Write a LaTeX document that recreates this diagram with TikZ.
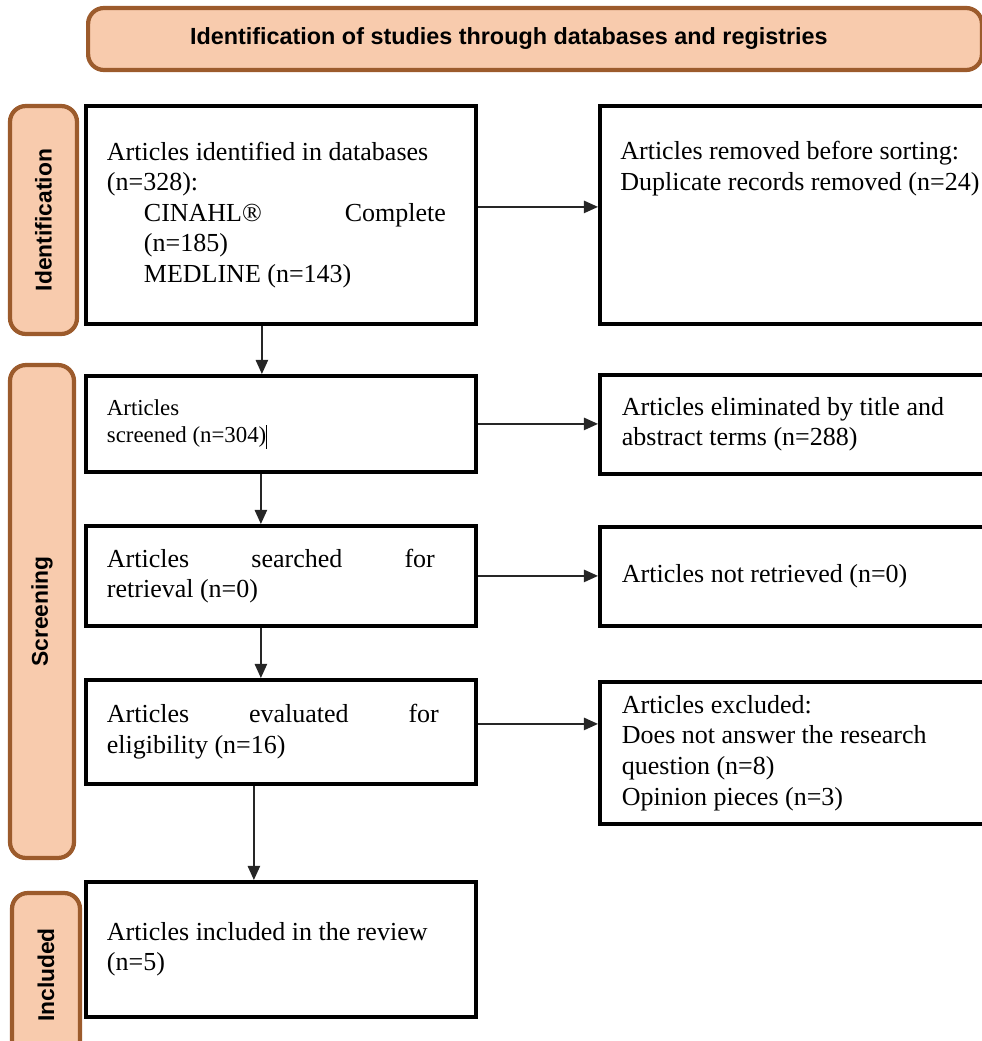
\documentclass[tikz,border=0pt]{standalone}
\usepackage{fontspec}
\setmainfont{Liberation Serif}
\setsansfont{Liberation Sans}
\usetikzlibrary{arrows.meta}

\begin{document}
\begin{tikzpicture}[x=0.02cm, y=-0.02cm,
    box/.style={draw, line width=2.2pt, align=flush left, anchor=north west, inner ysep=2pt, font=\fontsize{14.8}{17.4}\selectfont},
    lbox/.style={box, text width=6.96cm, inner xsep=0.42cm, minimum width=7.8cm},
    rbox/.style={box, text width=7.3cm, inner xsep=0.44cm, minimum width=8.18cm},
    side/.style={draw=hb, fill=hf, line width=2.4pt, rounded corners=9pt, rotate=90, font=\sffamily\bfseries\fontsize{13}{15}\selectfont},
    arr/.style={-{Triangle[length=8pt, width=7pt]}, line width=0.9pt, black!85}]
  \definecolor{hb}{HTML}{9C5B2C}
  \definecolor{hf}{HTML}{F8CBAD}
  \useasboundingbox (0, 0) rectangle (982, 1041);
  \clip (0, 0) rectangle (982, 1041);

  % header and phase labels
  \node (hdr) at (86, 39) [anchor=west, draw=hb, fill=hf, line width=2.4pt, rounded corners=9pt, minimum width=17.88cm, minimum height=1.24cm, text width=17.5cm, inner xsep=0.19cm, align=flush left, font=\sffamily\bfseries\fontsize{13.3}{15}\selectfont] {\hspace*{1.85cm}Identification of studies through databases and registries};
  \node (phid) at (43.5, 220) [side, minimum width=4.56cm, minimum height=1.34cm] {Identification};
  \node (phscr) at (42, 611.5) [side, minimum width=9.86cm, minimum height=1.28cm] {Screening};
  \node (phinc) at (46, 975) [side, minimum width=3.28cm, minimum height=1.36cm] {Included};

  % left column
  \node (ident) at (84, 104) [lbox, minimum height=4.36cm] {Articles identified in databases\\(n=328):\\
    \hspace*{0.74cm}\makebox[6.04cm][l]{CINAHL®\hfill Complete}\\\hspace*{0.74cm}(n=185)\\\hspace*{0.74cm}MEDLINE (n=143)};
  \node (screened) at (84, 374) [lbox, minimum height=1.92cm, font=\fontsize{13}{15.8}\selectfont] {Articles\\screened (n=304)\rule[-0.25em]{0.5pt}{1.05em}};
  \node (searched) at (84, 524) [lbox, minimum height=2cm] {\makebox[6.56cm][l]{Articles\hfill searched\hfill for}\\retrieval (n=0)};
  \node (evaluated) at (84, 678) [lbox, minimum height=2.08cm] {\makebox[6.64cm][l]{Articles\hfill evaluated\hfill for}\\eligibility (n=16)};
  \node (included) at (84, 880) [lbox, minimum height=2.7cm] {Articles included in the review\\(n=5)};

  % right column
  \node (removed) at (598, 104) [rbox, minimum height=4.36cm] {};
  \node (removedtxt) at ([xshift=0.44cm, yshift=-0.74cm]removed.north west) [anchor=north west, align=flush left, inner sep=0pt, font=\fontsize{14.8}{17.4}\selectfont] {Articles removed before sorting:\\Duplicate records removed (n=24)};
  \node (eliminated) at (598, 373) [rbox, minimum height=1.98cm] {Articles eliminated by title and\\abstract terms (n=288)};
  \node (notret) at (598, 525) [rbox, minimum height=1.98cm] {Articles not retrieved (n=0)};
  \node (excluded) at (598, 680) [rbox, minimum height=2.84cm] {Articles excluded:\\Does not answer the research\\question (n=8)\\Opinion pieces (n=3)};

  % connectors
  \draw [arr] ([xshift=-0.38cm]ident.south) -- ([xshift=-0.38cm]screened.north);
  \draw [arr] ([xshift=-0.4cm]screened.south) -- ([xshift=-0.4cm]searched.north);
  \draw [arr] ([xshift=-0.4cm]searched.south) -- ([xshift=-0.4cm]evaluated.north);
  \draw [arr] ([xshift=-0.54cm]evaluated.south) -- ([xshift=-0.54cm]included.north);
  \draw [arr] ([yshift=0.16cm]ident.east) -- ([yshift=0.16cm]removed.west);
  \draw [arr] (screened.east) -- (screened.east -| eliminated.west);
  \draw [arr] (searched.east) -- (searched.east -| notret.west);
  \draw [arr] ([yshift=0.16cm]evaluated.east) -- ([yshift=0.16cm]evaluated.east -| excluded.west);
\end{tikzpicture}
\end{document}
